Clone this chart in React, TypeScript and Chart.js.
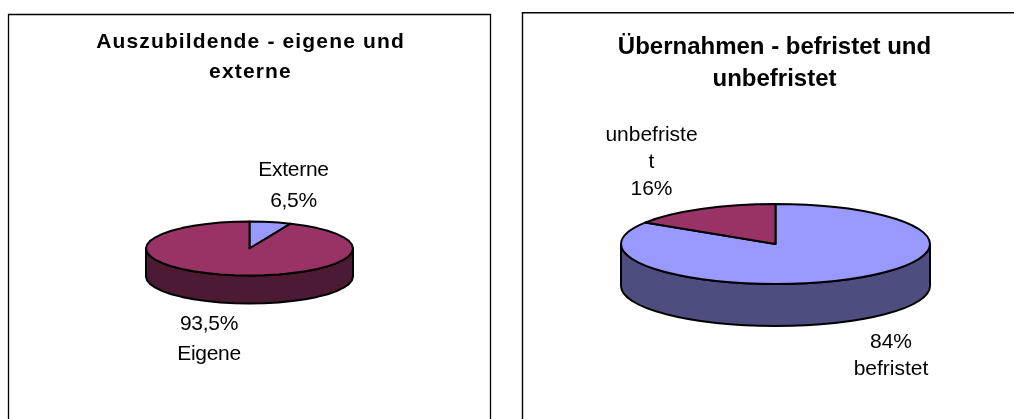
import React, { useEffect, useRef } from "react";
import { Chart, registerables } from "chart.js";

Chart.register(...registerables);

const FONT = "'Liberation Sans', Arial, sans-serif";

const leftTitle = ["Auszubildende - eigene und", "externe"];
const leftCategories = ["Externe", "Eigene"];
const leftValues = [6.5, 93.5];
const leftColors = ["#9999FF", "#993366"];
const leftSideColors = ["#4D4D80", "#4C1A33"];

const rightTitle = ["Übernahmen - befristet und", "unbefristet"];
const rightCategories = ["befristet", "unbefristet"];
const rightValues = [84, 16];
const rightColors = ["#9999FF", "#993366"];
const rightSideColors = ["#4D4D80", "#4C1A33"];

const pct = (v: number) => String(v).replace(".", ",") + "%";

// Traces an elliptical arc, as a smooth curve or as short straight facets.
function trace(ctx: any, cx: number, cy: number, rx: number, ry: number, a0: number, a1: number, step: number) {
  if (!step) {
    ctx.ellipse(cx, cy, rx, ry, 0, a0, a1, a1 < a0);
    return;
  }
  const dir = a1 >= a0 ? 1 : -1;
  const pt = (a: number) => ctx.lineTo(cx + rx * Math.cos(a), cy + ry * Math.sin(a));
  pt(a0);
  let k = dir > 0 ? Math.floor(a0 / step) + 1 : Math.ceil(a0 / step) - 1;
  while (dir > 0 ? k * step < a1 : k * step > a1) {
    pt(k * step);
    k += dir;
  }
  pt(a1);
}

const pie3d = {
  id: "pie3d",
  beforeDraw(chart: any, _a: any, o: any) {
    const { ctx, width, height } = chart;
    ctx.save();
    ctx.fillStyle = "#fff";
    ctx.fillRect(0, 0, width, height);
    ctx.strokeStyle = o.frameColor;
    ctx.lineWidth = o.frameWidth;
    ctx.beginPath();
    ctx.moveTo(o.frame.left, height);
    ctx.lineTo(o.frame.left, o.frame.top);
    ctx.lineTo(o.frame.right, o.frame.top);
    if (o.frame.closedRight) ctx.lineTo(o.frame.right, height);
    ctx.stroke();
    ctx.restore();
    ctx.letterSpacing = o.titleSpacing;
  },
  beforeDatasetDraw(chart: any, _a: any, o: any) {
    const { ctx } = chart;
    const arcs = chart.getDatasetMeta(0).data;
    const colors = chart.data.datasets[0].backgroundColor;
    const { cx, cy, rx, ry, depth, sideColors, lineWidth, facet } = o;
    ctx.save();
    ctx.letterSpacing = "0px";
    ctx.lineWidth = lineWidth;
    ctx.lineJoin = "round";
    ctx.strokeStyle = "#000";
    arcs.forEach((arc: any, i: number) => {
      const s = Math.max(arc.startAngle, 0);
      const e = Math.min(arc.endAngle, Math.PI);
      if (e <= s) return;
      ctx.beginPath();
      trace(ctx, cx, cy, rx, ry, s, e, facet);
      trace(ctx, cx, cy + depth, rx, ry, e, s, facet);
      ctx.closePath();
      ctx.fillStyle = sideColors[i];
      ctx.fill();
      ctx.stroke();
    });
    arcs.forEach((arc: any, i: number) => {
      ctx.beginPath();
      ctx.moveTo(cx, cy);
      trace(ctx, cx, cy, rx, ry, arc.startAngle, arc.endAngle, facet);
      ctx.closePath();
      ctx.fillStyle = colors[i];
      ctx.fill();
      ctx.stroke();
    });
    ctx.restore();
    return false;
  },
  afterDraw(chart: any, _a: any, o: any) {
    const { ctx } = chart;
    ctx.save();
    ctx.letterSpacing = o.labelSpacing;
    ctx.fillStyle = "#000";
    ctx.font = o.labelFont;
    ctx.textAlign = "center";
    ctx.textBaseline = "alphabetic";
    o.labels.forEach((l: any) => {
      l.lines.forEach((t: string, i: number) => {
        ctx.fillText(t, l.x, l.y + i * l.lineHeight);
      });
    });
    ctx.restore();
  },
};

function PieCanvas({ title, categories, values, colors, geometry, style, width, titleFont, titlePad }: any) {
  const ref = useRef<HTMLCanvasElement>(null);
  useEffect(() => {
    const chart = new Chart(ref.current!, {
      type: "pie",
      data: {
        labels: categories,
        datasets: [{ data: values, backgroundColor: colors, borderWidth: 0 }],
      },
      options: {
        animation: false,
        responsive: false,
        devicePixelRatio: 1,
        plugins: {
          legend: { display: false },
          tooltip: { enabled: false },
          title: {
            display: true,
            text: title,
            color: "#000",
            font: titleFont,
            padding: titlePad,
          },
          pie3d: geometry,
        },
      } as any,
      plugins: [pie3d],
    });
    return () => chart.destroy();
  }, []);
  return <canvas ref={ref} width={width} height={419} style={{ position: "absolute", display: "block", ...style }} />;
}

export default function App() {
  return (
    <div style={{ position: "fixed", left: 0, top: 0, width: 1014, height: 419, overflow: "hidden", background: "#fff" }}>
      <PieCanvas
        title={leftTitle}
        categories={leftCategories}
        values={leftValues}
        colors={leftColors}
        width={501}
        style={{ left: 0, top: 0 }}
        titleFont={{ family: FONT, size: 21, weight: "bold", lineHeight: 1.43 }}
        titlePad={{ top: 27, bottom: 0 }}
        geometry={{
          frame: { left: 8.5, top: 14.5, right: 490.5, closedRight: true },
          frameColor: "#000",
          frameWidth: 1.3,
          titleSpacing: "1.15px",
          labelSpacing: "-0.3px",
          labelFont: `21px ${FONT}`,
          cx: 249.5,
          cy: 248.5,
          rx: 103.5,
          ry: 27,
          depth: 28,
          sideColors: leftSideColors,
          lineWidth: 2,
          facet: Math.PI / 22,
          labels: [
            { lines: [leftCategories[0], pct(leftValues[0])], x: 293.5, y: 176, lineHeight: 30.5 },
            { lines: [pct(leftValues[1]), leftCategories[1]], x: 209, y: 330, lineHeight: 29.5 },
          ],
        }}
      />
      <PieCanvas
        title={rightTitle}
        categories={rightCategories}
        values={rightValues}
        colors={rightColors}
        width={529}
        style={{ left: 510, top: 0 }}
        titleFont={{ family: FONT, size: 24, weight: "bold", lineHeight: 1.33 }}
        titlePad={{ top: 31, bottom: 0 }}
        geometry={{
          frame: { left: 12.5, top: 12.8, right: 540, closedRight: false },
          frameColor: "#000",
          frameWidth: 1.4,
          titleSpacing: "0px",
          labelSpacing: "0px",
          labelFont: `21px ${FONT}`,
          cx: 265.5,
          cy: 244,
          rx: 154.5,
          ry: 40,
          depth: 42,
          sideColors: rightSideColors,
          lineWidth: 2,
          facet: 0,
          labels: [
            { lines: ["unbefriste", "t", pct(rightValues[1])], x: 141.5, y: 141, lineHeight: 27 },
            { lines: [pct(rightValues[0]), rightCategories[0]], x: 381, y: 348, lineHeight: 26.5 },
          ],
        }}
      />
    </div>
  );
}
